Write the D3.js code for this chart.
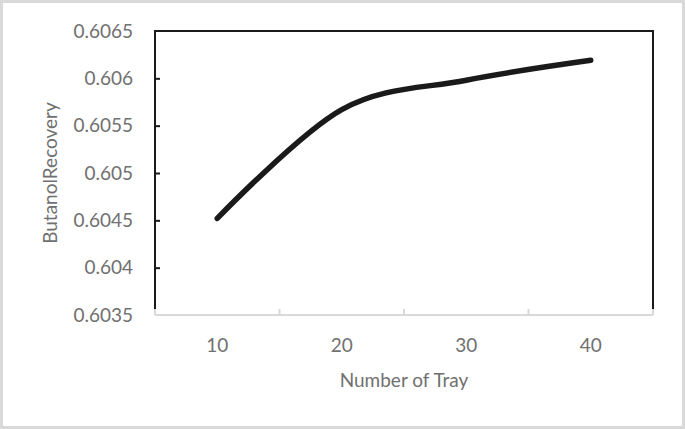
<!DOCTYPE html>
<html>
<head>
<meta charset="utf-8">
<script src="https://cdn.jsdelivr.net/npm/d3@7"></script>
<style>
  body { margin: 0; background: #fff; }
  text { font-family: Lato, "Open Sans", sans-serif; fill: #707070; }
</style>
</head>
<body>
<svg id="chart" width="685" height="429"></svg>
<script>
// data
var trays = [10, 20, 30, 40];
var recovery = [0.60452, 0.60567, 0.60598, 0.60619];
var yTicks = [0.6035, 0.604, 0.6045, 0.605, 0.6055, 0.606, 0.6065];

var svg = d3.select("#chart"),
    width = +svg.attr("width"),
    height = +svg.attr("height");

var margin = {left: 155, right: 32, top: 31, bottom: 114};

// outer frame
svg.append("rect")
    .attr("x", 1.5).attr("y", 1.5)
    .attr("width", width - 3).attr("height", height - 3)
    .attr("fill", "#fff")
    .attr("stroke", "#d9d9d9")
    .attr("stroke-width", 3);

var x = d3.scaleBand()
    .domain(trays)
    .range([margin.left, width - margin.right]);

var y = d3.scaleLinear()
    .domain([0.6035, 0.6065])
    .range([height - margin.bottom, margin.top]);

// plot area border (left, top, right)
svg.append("path")
    .attr("d", "M" + x.range()[0] + "," + y(0.6035) + "V" + y(0.6065) + "H" + x.range()[1] + "V" + y(0.6035))
    .attr("fill", "none")
    .attr("stroke", "#1a1a1a")
    .attr("stroke-width", 2);

// y axis ticks + labels
var yAxis = svg.append("g")
    .attr("transform", "translate(" + x.range()[0] + ",0)")
    .call(d3.axisLeft(y).tickValues(yTicks).tickSize(-5).tickPadding(22)
        .tickFormat(function(d) { return d3.format(".4~f")(d); }));
yAxis.select(".domain").remove();
yAxis.selectAll(".tick line").attr("stroke", "#1a1a1a").attr("stroke-width", 2)
    .filter(function(d) { return d === 0.6035 || d === 0.6065; }).remove();
yAxis.selectAll("text").attr("font-size", "19px").attr("fill", "#707070").attr("font-family", "Lato");

// x axis: gray line, ticks between categories
var xg = svg.append("g").attr("transform", "translate(0," + y(0.6035) + ")");
xg.append("line")
    .attr("x1", x.range()[0]).attr("x2", x.range()[1])
    .attr("stroke", "#d9d9d9").attr("stroke-width", 2);
var edges = trays.map(function(d) { return x(d); }).concat([x.range()[1]]);
xg.selectAll(".xt").data(edges).enter().append("line")
    .attr("x1", function(d) { return d; }).attr("x2", function(d) { return d; })
    .attr("y1", 0).attr("y2", -6)
    .attr("stroke", "#d9d9d9").attr("stroke-width", 2);
xg.selectAll(".xl").data(trays).enter().append("text")
    .attr("x", function(d) { return x(d) + x.bandwidth() / 2; })
    .attr("y", 37)
    .attr("text-anchor", "middle")
    .attr("font-size", "19px")
    .text(function(d) { return d; });

// line
var line = d3.line()
    .x(function(d, i) { return x(trays[i]) + x.bandwidth() / 2; })
    .y(function(d) { return y(d); })
    .curve(d3.curveCatmullRom.alpha(0));

svg.append("path")
    .datum(recovery)
    .attr("d", line)
    .attr("fill", "none")
    .attr("stroke", "#1a1a1a")
    .attr("stroke-width", 5.5)
    .attr("stroke-linecap", "round")
    .attr("stroke-linejoin", "round");

// axis titles
svg.append("text")
    .attr("transform", "translate(" + 57 + "," + 173 + ") rotate(-90)")
    .attr("text-anchor", "middle")
    .attr("font-size", "19px")
    .text("ButanolRecovery");

svg.append("text")
    .attr("x", 404).attr("y", 387)
    .attr("text-anchor", "middle")
    .attr("font-size", "19px")
    .text("Number of Tray");
</script>
</body>
</html>
